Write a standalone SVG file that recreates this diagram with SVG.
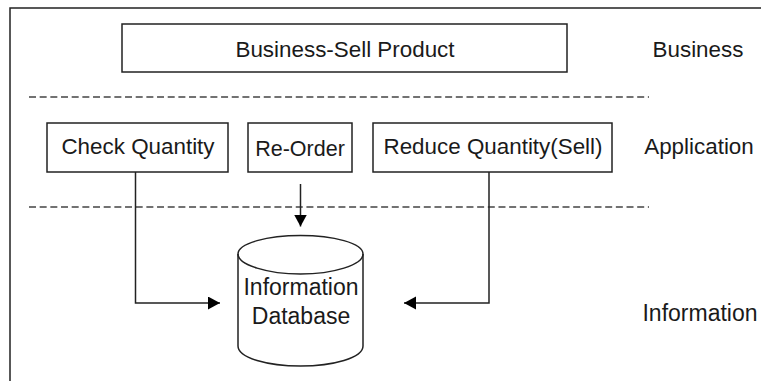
<svg xmlns="http://www.w3.org/2000/svg" width="761" height="381" viewBox="0 0 761 381">
<style>
.b{fill:#fff;stroke:#222;stroke-width:1.5}
.c{fill:none;stroke:#222;stroke-width:1.5}
.d{fill:none;stroke:#444;stroke-width:1.5;stroke-dasharray:7 3.67}
text{font-family:"Liberation Sans",Arial,sans-serif;font-size:22.4px;fill:#1a1a1a;text-anchor:middle}
.w{font-size:23px}
</style>
<defs><marker id="a" markerUnits="userSpaceOnUse" markerWidth="13" markerHeight="14" refX="12" refY="6.5" orient="auto"><path d="M0 0L12 6.500L0 13Z" fill="#000"/></marker></defs>
<rect width="761" height="381" fill="#fff"/>
<path class="c" d="M10 381V8H761"/>
<g id="dividers"><path class="d" d="M29 97H649"/><path class="d" d="M29 207H649"/></g>
<g id="connectors">
<path class="c" d="M135.500 172V303H220" marker-end="url(#a)"/>
<path class="c" d="M300.500 184V226.500" marker-end="url(#a)"/>
<path class="c" d="M489 172V303H404" marker-end="url(#a)"/>
</g>
<g id="business"><rect class="b" x="122" y="24" width="445" height="48"/><text x="345" y="57">Business-Sell Product</text></g>
<g id="check"><rect class="b" x="47" y="123" width="181" height="49"/><text x="138" y="154">Check Quantity</text></g>
<g id="reorder"><rect class="b" x="248" y="123" width="104" height="49"/><text x="300" y="156" style="font-size:21.5px">Re-Order</text></g>
<g id="reduce"><rect class="b" x="373" y="123" width="239" height="49"/><text x="493" y="154">Reduce Quantity(Sell)</text></g>
<g id="db">
<path class="b" d="M238 254C238 243 268 235.500 300.500 235.500S363 243 363 254V346C363 358 333 366 300.500 366S238 358 238 346Z"/>
<path class="c" d="M238 254C238 265 268 274 300.500 274S363 265 363 254"/>
<text class="w" x="301" y="295">Information</text><text class="w" x="301" y="324">Database</text>
</g>
<text id="l1" x="698" y="57">Business</text>
<text id="l2" x="699" y="154">Application</text>
<text id="l3" class="w" x="700" y="321">Information</text>
</svg>
